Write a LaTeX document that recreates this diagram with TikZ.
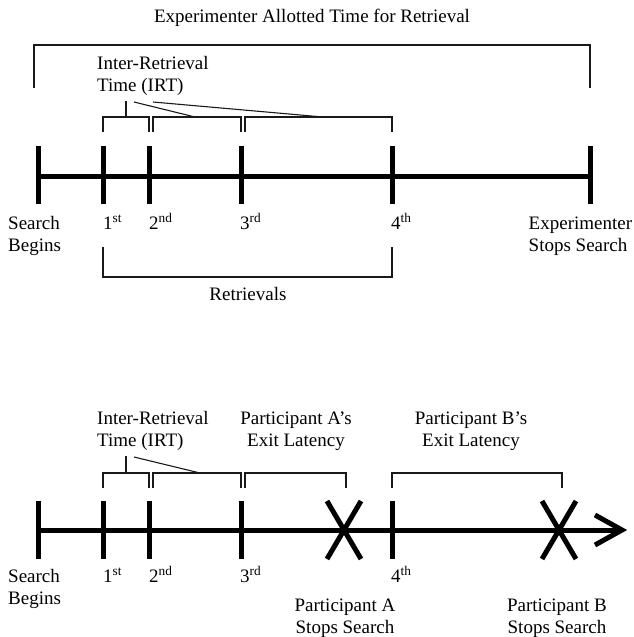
\documentclass[tikz,border=0pt]{standalone}
\usepackage{fontspec}
\setmainfont{Liberation Serif}
\begin{document}
\begin{tikzpicture}[x=1pt,y=-1pt,
  axis/.style={line width=5pt, draw=black},
  brk/.style={line width=1.1pt, draw=black!90},
  lbl/.style={font=\fontsize{19}{22}\selectfont, inner sep=0pt, anchor=base west},
  clbl/.style={font=\fontsize{19}{22}\selectfont, inner sep=0pt, anchor=base}]
\useasboundingbox (0,0) rectangle (633,637);
% ---------------- top timeline ----------------
\node[clbl] (title) at (312,23) {Experimenter Allotted Time for Retrieval};
\draw[brk] (34,88) -- (34,45) -- (590,45) -- (590,88);
\node[lbl] (irt1) at (97,69) {Inter-Retrieval};
\node[lbl] (irt2) at (97,91) {Time (IRT)};
\coordinate (s1) at (126,101);
\coordinate (s2) at (134,102);
\coordinate (s3) at (153,102);
\draw[brk] (s1) -- (126,117);
\draw[brk] (s2) -- (195,117);
\draw[brk] (s3) -- (323,117);
\draw[brk] (103,132) -- (103,117) -- (149,117) -- (149,132);
\draw[brk] (153,132) -- (153,117) -- (241,117) -- (241,132);
\draw[brk] (245,132) -- (245,117) -- (392,117) -- (392,132);
\coordinate (a0) at (38,176);
\coordinate (a1) at (590,176);
\draw[axis] (a0) -- (a1);
\foreach \x in {38,103,149,241,392,590}
  \draw[axis] (\x,146) -- (\x,204);
\node[lbl] (sb1) at (8,229) {Search};
\node[lbl] (sb2) at (8,251) {Begins};
\node[lbl] (r1) at (103,229) {1\textsuperscript{st}};
\node[lbl] (r2) at (149,229) {2\textsuperscript{nd}};
\node[lbl] (r3) at (240,229) {3\textsuperscript{rd}};
\node[lbl] (r4) at (391,229) {4\textsuperscript{th}};
\node[lbl] (es1) at (528.5,229) {Experimenter};
\node[lbl] (es2) at (528.5,251) {Stops Search};
\draw[brk] (103,247) -- (103,277) -- (392,277) -- (392,247);
\node[clbl] (retr) at (248,300) {Retrievals};
% ---------------- bottom timeline ----------------
\node[lbl] (birt1) at (97,424) {Inter-Retrieval};
\node[lbl] (birt2) at (97,446) {Time (IRT)};
\node[clbl] (pa1) at (296,424) {Participant A's};
\node[clbl] (pa2) at (296,446) {Exit Latency};
\node[clbl] (pb1) at (471,424) {Participant B's};
\node[clbl] (pb2) at (471,446) {Exit Latency};
\draw[brk] (126,456) -- (126,473);
\draw[brk] (134,457) -- (200,473);
\draw[brk] (103,488) -- (103,473) -- (149,473) -- (149,488);
\draw[brk] (153,488) -- (153,473) -- (241,473) -- (241,488);
\draw[brk] (245,488) -- (245,473) -- (346,473) -- (346,488);
\draw[brk] (392,488) -- (392,473) -- (562,473) -- (562,488);
\coordinate (b0) at (38,530);
\coordinate (b1) at (619,530);
\draw[axis] (b0) -- (b1);
\draw[axis, line join=miter] (595,515) -- (622,530) -- (595,545);
\foreach \x in {38,103,149,241,392}
  \draw[axis] (\x,501) -- (\x,559);
\draw[axis] (327,501) -- (361,559);
\draw[axis] (361,501) -- (327,559);
\draw[axis] (542,501) -- (576,559);
\draw[axis] (576,501) -- (542,559);
\node[lbl] (bsb1) at (8,582) {Search};
\node[lbl] (bsb2) at (8,604) {Begins};
\node[lbl] (br1) at (103,582) {1\textsuperscript{st}};
\node[lbl] (br2) at (149,582) {2\textsuperscript{nd}};
\node[lbl] (br3) at (240,582) {3\textsuperscript{rd}};
\node[lbl] (br4) at (391,582) {4\textsuperscript{th}};
\node[clbl] (psa1) at (345,611) {Participant A};
\node[clbl] (psa2) at (345,633) {Stops Search};
\node[clbl] (psb1) at (557,611) {Participant B};
\node[clbl] (psb2) at (557,633) {Stops Search};
\end{tikzpicture}
\end{document}
